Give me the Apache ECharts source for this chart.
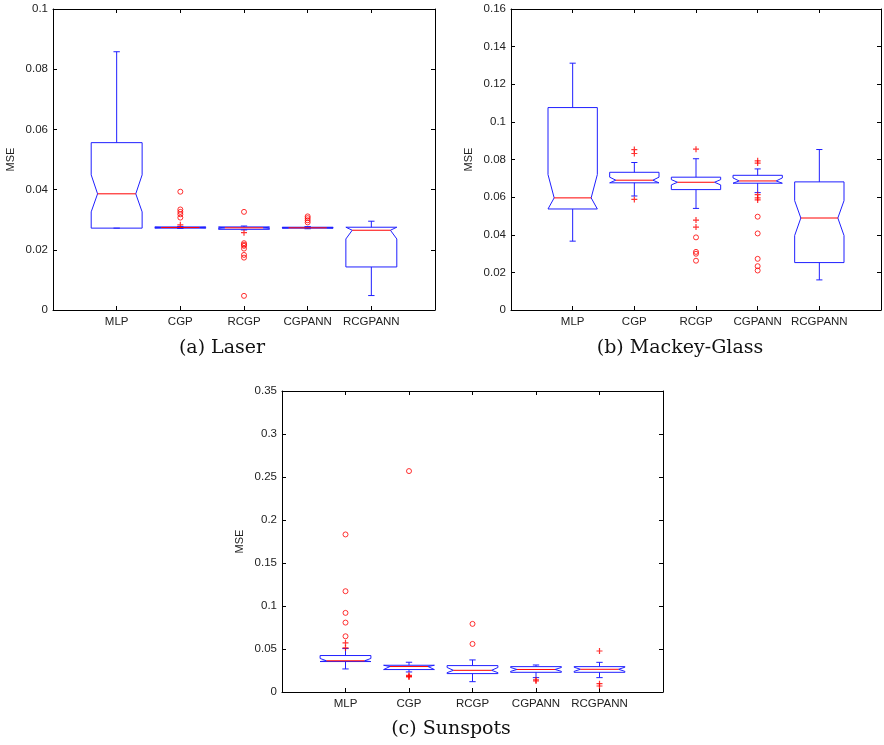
<!DOCTYPE html>
<html lang="en">
  <head>
    <meta charset="UTF-8" />
    <title>MSE boxplots</title>
    <script src="https://cdn.jsdelivr.net/npm/echarts@6/dist/echarts.min.js"></script>
    <style>
      html, body { margin: 0; padding: 0; background: #fff; }
    </style>
  </head>
  <body>
    <div id="main" style="width: 884px; height: 745px"></div>
    <script type="text/javascript">
      // methods on the x axis, positions 1..5
      const categories = ['MLP', 'CGP', 'RCGP', 'CGPANN', 'RCGPANN'];

      // (a) Laser
      const laserLow    = [0.0272, 0.0271, 0.0266, 0.0270, 0.0048];
      const laserQ1     = [0.0272, 0.0272, 0.0268, 0.0272, 0.0143];
      const laserMedian = [0.0386, 0.0274, 0.0273, 0.0273, 0.0265];
      const laserQ3     = [0.0556, 0.0276, 0.0276, 0.0275, 0.0275];
      const laserHigh   = [0.0858, 0.0277, 0.0279, 0.0277, 0.0295];
      const laserNotchLo = [0.0326, 0.0273, 0.0271, 0.0272, 0.0236];
      const laserNotchHi = [0.0449, 0.0275, 0.0275, 0.0274, 0.0275];
      const laserCircles = [[], [0.0393, 0.0334, 0.0326, 0.0318, 0.0307],
        [0.0326, 0.0222, 0.0217, 0.0213, 0.0204, 0.0183, 0.0174, 0.0047],
        [0.0311, 0.0305, 0.0298, 0.0291], []];
      const laserPlus = [[], [0.0283], [0.0257], [], []];

      // (b) Mackey-Glass
      const mgLow    = [0.0366, 0.0606, 0.0540, 0.0624, 0.0160];
      const mgQ1     = [0.0537, 0.0676, 0.0640, 0.0674, 0.0252];
      const mgMedian = [0.0596, 0.0690, 0.0679, 0.0686, 0.0489];
      const mgQ3     = [0.1076, 0.0732, 0.0706, 0.0716, 0.0681];
      const mgHigh   = [0.1312, 0.0784, 0.0804, 0.0750, 0.0853];
      const mgNotchLo = [0.0537, 0.0676, 0.0665, 0.0674, 0.0396];
      const mgNotchHi = [0.0720, 0.0706, 0.0693, 0.0702, 0.0581];
      const mgCircles = [[], [], [0.0386, 0.0309, 0.0299, 0.0262],
        [0.0496, 0.0407, 0.0272, 0.0233, 0.0210], []];
      const mgPlus = [[], [0.0853, 0.0832, 0.0588], [0.0855, 0.0478, 0.0441],
        [0.0793, 0.0781, 0.0613, 0.0596, 0.0585], []];

      // (c) Sunspots
      const sunLow    = [0.0268, 0.0233, 0.0120, 0.0167, 0.0167];
      const sunQ1     = [0.0354, 0.0261, 0.0214, 0.0229, 0.0229];
      const sunMedian = [0.0363, 0.0296, 0.0252, 0.0262, 0.0264];
      const sunQ3     = [0.0424, 0.0311, 0.0307, 0.0295, 0.0295];
      const sunHigh   = [0.0505, 0.0346, 0.0373, 0.0314, 0.0345];
      const sunNotchLo = [0.0354, 0.0261, 0.0225, 0.0240, 0.0240];
      const sunNotchHi = [0.0390, 0.0311, 0.0285, 0.0285, 0.0288];
      const sunCircles = [[0.1832, 0.1172, 0.0920, 0.0807, 0.0648], [0.2569],
        [0.0792, 0.0559], [], []];
      const sunPlus = [[0.0572, 0.0512], [0.0194, 0.0182, 0.0175], [],
        [0.0140, 0.0128], [0.0477, 0.0097, 0.0070]];

      const yMax = [0.1, 0.16, 0.35];
      const yStep = [0.02, 0.02, 0.05];
      const captions = ['(a) Laser', '(b) Mackey-Glass', '(c) Sunspots'];

      const BLUE = '#1f1fff';
      const RED = '#ff0000';
      const INK = '#222';

      const grids = [
        { left: 53, top: 9, width: 382, height: 301 },
        { left: 511, top: 9, width: 382, height: 301 },
        { left: 282, top: 391, width: 381, height: 301 }
      ];

      const panels = [
        [laserLow, laserQ1, laserMedian, laserQ3, laserHigh, laserNotchLo, laserNotchHi, laserCircles, laserPlus],
        [mgLow, mgQ1, mgMedian, mgQ3, mgHigh, mgNotchLo, mgNotchHi, mgCircles, mgPlus],
        [sunLow, sunQ1, sunMedian, sunQ3, sunHigh, sunNotchLo, sunNotchHi, sunCircles, sunPlus]
      ];

      function renderBox(params, api) {
        const x = api.value(0);
        const lo = api.value(1), q1 = api.value(2), med = api.value(3);
        const q3 = api.value(4), hi = api.value(5);
        const nlo = api.value(6), nhi = api.value(7);
        const py = (v) => api.coord([x, v])[1];
        const cx = api.coord([x, 0])[0];
        const half = api.size([0.4, 0])[0];
        const inner = api.size([0.3, 0])[0];
        const cap = api.size([0.05, 0])[0];
        const lineStyle = { stroke: BLUE, lineWidth: 1, fill: null };
        const xl = cx - half, xr = cx + half, xil = cx - inner, xir = cx + inner;
        return {
          type: 'group',
          children: [
            { type: 'line', shape: { x1: cx, y1: py(q3), x2: cx, y2: py(hi) }, style: lineStyle },
            { type: 'line', shape: { x1: cx, y1: py(q1), x2: cx, y2: py(lo) }, style: lineStyle },
            { type: 'line', shape: { x1: cx - cap, y1: py(hi), x2: cx + cap, y2: py(hi) }, style: lineStyle },
            { type: 'line', shape: { x1: cx - cap, y1: py(lo), x2: cx + cap, y2: py(lo) }, style: lineStyle },
            {
              type: 'polygon',
              shape: {
                points: [
                  [xl, py(q1)], [xl, py(nlo)], [xil, py(med)], [xl, py(nhi)], [xl, py(q3)],
                  [xr, py(q3)], [xr, py(nhi)], [xir, py(med)], [xr, py(nlo)], [xr, py(q1)]
                ]
              },
              style: { stroke: BLUE, lineWidth: 1, fill: 'none' }
            },
            { type: 'line', shape: { x1: xil, y1: py(med), x2: xir, y2: py(med) }, style: { stroke: RED, lineWidth: 1 } }
          ]
        };
      }

      const xAxes = [];
      const yAxes = [];
      const series = [];
      const graphics = [];

      panels.forEach((p, i) => {
        const frame = { show: true, onZero: false, lineStyle: { color: '#000', width: 1 } };
        const ticksIn = { show: true, inside: true, length: 4, lineStyle: { color: '#000' } };
        const labelFont = { color: INK, fontSize: 11.5, fontFamily: 'Liberation Sans' };
        xAxes.push({
          gridIndex: i, type: 'value', position: 'bottom', min: 0, max: 6, interval: 1,
          axisLine: frame, axisTick: ticksIn, splitLine: { show: false },
          axisLabel: Object.assign({ margin: 6, formatter: (v) => categories[v - 1] || '' }, labelFont)
        });
        xAxes.push({
          gridIndex: i, type: 'value', position: 'top', min: 0, max: 6, interval: 1,
          axisLine: frame, axisTick: ticksIn, splitLine: { show: false }, axisLabel: { show: false }
        });
        yAxes.push({
          gridIndex: i, type: 'value', position: 'left', min: 0, max: yMax[i], interval: yStep[i],
          axisLine: frame, axisTick: ticksIn, splitLine: { show: false },
          axisLabel: Object.assign({ margin: 5 }, labelFont),
          name: 'MSE', nameLocation: 'middle', nameGap: 37, nameRotate: 90,
          nameTextStyle: { color: INK, fontSize: 11, fontFamily: 'Liberation Sans' }
        });
        yAxes.push({
          gridIndex: i, type: 'value', position: 'right', min: 0, max: yMax[i], interval: yStep[i],
          axisLine: frame, axisTick: ticksIn, splitLine: { show: false }, axisLabel: { show: false }
        });

        const boxes = categories.map((c, k) => [k + 1, p[0][k], p[1][k], p[2][k], p[3][k], p[4][k], p[5][k], p[6][k]]);
        const circles = [];
        const plus = [];
        p[7].forEach((vals, k) => vals.forEach((v) => circles.push([k + 1, v])));
        p[8].forEach((vals, k) => vals.forEach((v) => plus.push([k + 1, v])));

        series.push({
          type: 'custom', xAxisIndex: 2 * i, yAxisIndex: 2 * i, silent: true,
          renderItem: renderBox, encode: { x: 0, y: [1, 2, 3, 4, 5] }, data: boxes
        });
        series.push({
          type: 'scatter', xAxisIndex: 2 * i, yAxisIndex: 2 * i, silent: true,
          symbol: 'circle', symbolSize: 5,
          itemStyle: { color: 'rgba(0,0,0,0)', borderColor: RED, borderWidth: 1 },
          data: circles
        });
        series.push({
          type: 'scatter', xAxisIndex: 2 * i, yAxisIndex: 2 * i, silent: true,
          symbol: 'path://M4,0H6V4H10V6H6V10H4V6H0V4H4Z', symbolSize: 6,
          itemStyle: { color: RED },
          data: plus
        });
      });

      // sub-figure captions
      const capPos = [[222, 348], [680, 348], [451, 729]];
      captions.forEach((t, i) => {
        graphics.push({
          type: 'text', x: capPos[i][0], y: capPos[i][1],
          style: {
            text: t, fill: '#111', font: '19px "DejaVu Serif"',
            align: 'center', verticalAlign: 'middle'
          }
        });
      });

      const myChart = echarts.init(document.getElementById('main'));
      myChart.setOption({
        animation: false,
        backgroundColor: '#fff',
        grid: grids,
        xAxis: xAxes,
        yAxis: yAxes,
        series: series,
        graphic: graphics
      });
    </script>
  </body>
</html>
